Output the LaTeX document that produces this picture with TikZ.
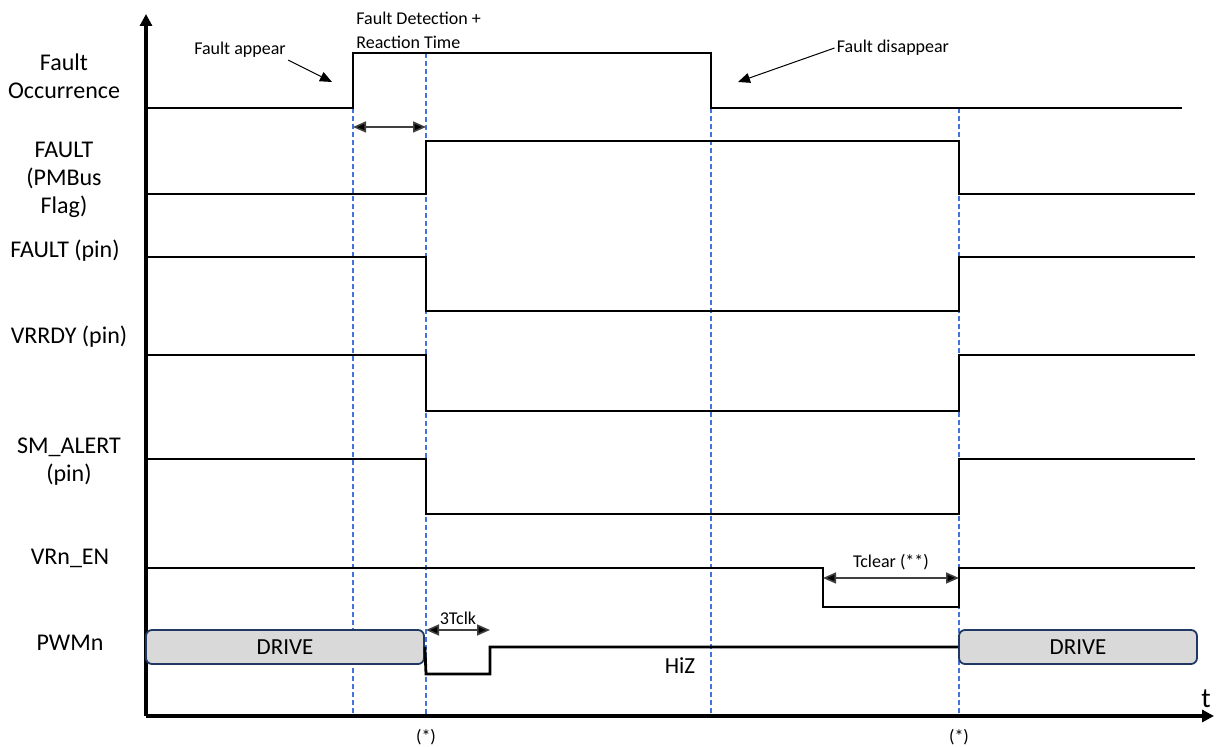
\documentclass[tikz,border=0pt]{standalone}
\usepackage{fontspec}
\setmainfont{Carlito}
\usetikzlibrary{arrows.meta,positioning}

\begin{document}
\begin{tikzpicture}[
    x=0.5pt,
    y=-0.5pt,
    signal/.style={
        line width=1.4pt,
        line join=miter
    },
    axis/.style={
        line width=1.6pt,
        -{Triangle[length=6pt,width=6pt]}
    },
    guide/.style={
        draw=guideblue,
        line width=0.65pt,
        dash pattern=on 2.5pt off 1.5pt
    },
    pointer/.style={
        line width=0.5pt,
        -{Triangle[length=6pt,width=5pt]}
    },
    span/.style={
        line width=0.8pt,
        draw=black!75,
        {Triangle[length=6.5pt,width=5.5pt,fill=black]}-{Triangle[length=6.5pt,width=5.5pt,fill=black]}
    },
    signame/.style={
        font=\fontsize{12}{14}\selectfont,
        align=center
    },
    note/.style={
        font=\fontsize{9}{12}\selectfont,
        align=left,
        inner sep=1pt
    },
    drivebox/.style={
        draw=drivedark,
        fill=drivegray,
        rounded corners=3pt,
        line width=0.9pt,
        minimum height=17pt,
        inner sep=0pt,
        font=\fontsize{11.5}{13}\selectfont
    }
]

\definecolor{guideblue}{RGB}{68,114,220}
\definecolor{drivegray}{RGB}{217,217,217}
\definecolor{drivedark}{RGB}{31,56,100}

\useasboundingbox (0,0) rectangle (1232,747);

% time markers
\draw[guide] (353,108) -- (353,716);
\draw[guide] (426,53) -- (426,716);
\draw[guide] (711,108) -- (711,716);
\draw[guide] (959,108) -- (959,716);

% axes
\coordinate (origin) at (146,716);
\coordinate (ytop) at (146,14);
\coordinate (xend) at (1214,716);
\draw[axis] (origin) -- (ytop);
\draw[axis] (origin) -- (xend);
\node[font=\fontsize{14}{16}\selectfont] (tlabel) at (1206,699) {t};

% signal names
\node[signame] (occ) at (64,76) {Fault\\Occurrence};
\node[signame] (flag) at (64,180) {FAULT\\(PMBus\\Flag)};
\node[signame] (pin) at (65,251) {FAULT (pin)};
\node[signame] (rdy) at (69,337) {VRRDY (pin)};
\node[signame] (alert) at (69,462) {SM\_ALERT\\(pin)};
\node[signame] (en) at (70,558) {VRn\_EN};
\node[signame] (pwm) at (70,643) {PWMn};

% waveforms
\draw[signal] (146,108) -- (353,108) -- (353,53) -- (711,53) -- (711,108) -- (1182,108);
\draw[signal] (146,194) -- (426,194) -- (426,141) -- (959,141) -- (959,194) -- (1195,194);
\draw[signal] (146,257) -- (426,257) -- (426,311) -- (959,311) -- (959,257) -- (1195,257);
\draw[signal] (146,355) -- (426,355) -- (426,411) -- (959,411) -- (959,355) -- (1195,355);
\draw[signal] (146,459) -- (426,459) -- (426,514) -- (959,514) -- (959,459) -- (1195,459);
\draw[signal] (146,568) -- (823,568) -- (823,607) -- (959,607) -- (959,568) -- (1195,568);

\node[drivebox, minimum width=139pt] (drive1) at (285,647) {DRIVE};
\node[drivebox, minimum width=119pt] (drive2) at (1078,647) {DRIVE};
\draw[signal] (drive1.east) -- (426,674) -- (490,674) -- (490,647) -- (drive2.west);
\node[font=\fontsize{11.5}{13}\selectfont] (hiz) at (680,666) {HiZ};

% annotations
\node[note] (appear) at (240,50) {Fault appear};
\coordinate (appeartip) at (332,82);
\draw[pointer] (appear.south east) -- (appeartip);

\node[note, anchor=west] (detect) at (354,30) {Fault Detection +\\Reaction Time};
\coordinate (detA) at (353,127);
\coordinate (detB) at (426,127);
\draw[span] (detA) -- (detB);

\node[note] (disappear) at (893,48) {Fault disappear};
\coordinate (disappeartip) at (738,82);
\draw[pointer] (disappear.west) -- (disappeartip);

\coordinate (clrA) at (823,578);
\coordinate (clrB) at (959,578);
\draw[span] (clrA) -- (clrB);
\node[note] (tclear) at (891,562) {Tclear (**)};

\coordinate (clkA) at (426,630);
\coordinate (clkB) at (490,630);
\draw[span] (clkA) -- (clkB);
\node[note] (tclk) at (458,618) {3Tclk};

\node[note] (star1) at (426,737) {(*)};
\node[note] (star2) at (959,737) {(*)};

\end{tikzpicture}
\end{document}
